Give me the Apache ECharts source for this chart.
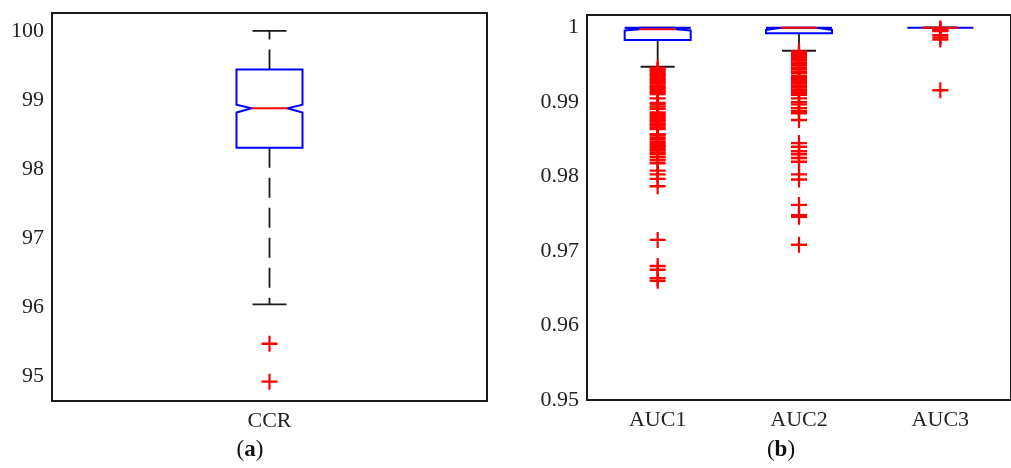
<!DOCTYPE html>
<html>
<head>
<meta charset="utf-8">
<script src="https://cdn.jsdelivr.net/npm/echarts@6/dist/echarts.min.js"></script>
<style>
  html, body { margin: 0; background: #fff; }
  #chart { width: 1011px; height: 468px; }
</style>
</head>
<body>
<div id="chart"></div>
<script>
"use strict";
// ---- data ----
// box rows: [lower whisker, q1, median, q3, upper whisker]
const CATS_A = ["CCR"];
const BOX_A = [[96.04, 98.31, 98.88, 99.44, 100]];
const NOTCH_A = [[98.82, 98.93]];
const OUT_CCR = [95.47, 94.92];
const Y_TICKS_A = [95, 96, 97, 98, 99, 100];

const CATS_B = ["AUC1", "AUC2", "AUC3"];
const BOX_B = [[0.99475, 0.99834, 0.99978, 1.0, 1.0],
               [0.9969, 0.99925, 1.0, 1.0, 1.0],
               [1.0, 1.0, 1.0, 1.0, 1.0]];
const NOTCH_B = [[0.99962, 1.0], [0.9997, 1.0], [1.0, 1.0]];
const OUT_AUC1 = [0.9946, 0.9944, 0.9942, 0.9939, 0.9937, 0.9935, 0.9932, 0.9930, 0.9927,
  0.9925, 0.9922, 0.9920, 0.9918, 0.9915, 0.9913, 0.9911, 0.9905, 0.9899, 0.9897, 0.9894, 0.9891,
  0.9886, 0.9884, 0.9881, 0.9879, 0.9876, 0.9874, 0.9871, 0.9869, 0.9866, 0.9864,
  0.9857, 0.9855, 0.9852, 0.9850, 0.9847, 0.9845, 0.9842, 0.9840, 0.9837, 0.9835, 0.9832, 0.9830,
  0.9826, 0.9822, 0.9818, 0.9808, 0.9803, 0.9797, 0.9787,
  0.9715, 0.9680, 0.9675, 0.96635, 0.9660];
const OUT_AUC2 = [0.9968, 0.9966, 0.9963, 0.9961, 0.9958, 0.9956, 0.9953, 0.9951, 0.9949,
  0.9946, 0.9944, 0.9941, 0.9939, 0.9935, 0.9932, 0.9930, 0.9927, 0.9925, 0.9922, 0.9920,
  0.9917, 0.9915, 0.9912, 0.9910, 0.9905, 0.9900, 0.9897, 0.9892, 0.9888, 0.9885, 0.9876,
  0.9845, 0.9840, 0.9834, 0.9830, 0.9825, 0.9820, 0.9803, 0.9796,
  0.9762, 0.9748, 0.9746, 0.97085];
const OUT_AUC3 = [0.9999, 0.9998, 0.9997, 0.9996, 0.99955, 0.9990, 0.9987, 0.9984, 0.9916];
const Y_TICKS_B = [0.95, 0.96, 0.97, 0.98, 0.99, 1];

// ---- styles ----
const FRAME = "#1a1a1a";
const FONT = "'Liberation Serif', 'Times New Roman', serif";
const BOX_HALF = 33, NOTCH_IN = 15, CAP_HALF = 17;
const PLUS = "path://M0,6.8H16V9.2H0Z M6.9,0H9.1V16H6.9Z";

const boxRows = (box, notch) => box.map((b, i) => [i, ...b, ...notch[i]]);
const outRows = (lists) => lists.flatMap((vals, i) => vals.map((v) => [i, v]));

function renderBox(params, api) {
  const i = api.value(0);
  const [lo, q1, med, q3, hi, nlo, nhi] = [1, 2, 3, 4, 5, 6, 7].map((k) => api.value(k));
  const y = (v) => api.coord([i, v])[1];
  const cx = api.coord([i, med])[0];
  const L = cx - BOX_HALF, R = cx + BOX_HALF;
  const whisker = { stroke: FRAME, lineWidth: 1.8, lineDash: [20, 10] };
  const cap = { stroke: FRAME, lineWidth: 1.8 };
  const kids = [];
  if (hi > q3) kids.push({ type: "line", shape: { x1: cx, y1: y(q3), x2: cx, y2: y(hi) }, style: whisker });
  if (lo < q1) kids.push({ type: "line", shape: { x1: cx, y1: y(q1), x2: cx, y2: y(lo) }, style: whisker });
  kids.push({ type: "line", shape: { x1: cx - CAP_HALF, y1: y(hi), x2: cx + CAP_HALF, y2: y(hi) }, style: cap });
  kids.push({ type: "line", shape: { x1: cx - CAP_HALF, y1: y(lo), x2: cx + CAP_HALF, y2: y(lo) }, style: cap });
  kids.push({ type: "polygon", shape: { points: [
      [L, y(q1)], [L, y(nlo)], [L + NOTCH_IN, y(med)], [L, y(nhi)], [L, y(q3)],
      [R, y(q3)], [R, y(nhi)], [R - NOTCH_IN, y(med)], [R, y(nlo)], [R, y(q1)]] },
    style: { fill: "none", stroke: "#0000ff", lineWidth: 2 } });
  kids.push({ type: "line", shape: { x1: L + NOTCH_IN, y1: y(med), x2: R - NOTCH_IN, y2: y(med) },
    style: { stroke: "#ff0000", lineWidth: 2 } });
  return { type: "group", children: kids };
}

const line = { lineStyle: { color: FRAME, width: 2 } };
const tick = { inside: true, length: 5, lineStyle: { color: FRAME, width: 1.5 } };
const label = { color: "#222", fontFamily: FONT, fontSize: 22 };

function xAxes(grid, cats) {
  return [
    { type: "category", gridIndex: grid, data: cats, position: "bottom", axisLine: line,
      axisTick: { ...tick, alignWithLabel: true }, axisLabel: { ...label, margin: 9 } },
    { type: "category", gridIndex: grid, data: cats, position: "top", axisLine: line,
      axisTick: { ...tick, alignWithLabel: true }, axisLabel: { show: false } }];
}
function yAxes(grid, min, max, ticks) {
  return [
    { type: "value", gridIndex: grid, min, max, position: "left", axisLine: { show: true, ...line },
      axisTick: { ...tick, customValues: ticks }, splitLine: { show: false },
      axisLabel: { ...label, margin: 8, customValues: ticks, formatter: (v) => String(v) } },
    { type: "value", gridIndex: grid, min, max, position: "right", axisLine: { show: true, ...line },
      axisTick: { ...tick, customValues: ticks }, splitLine: { show: false },
      axisLabel: { show: false } }];
}

const caption = (x, letter) => ({
  type: "text", x, y: 450,
  style: { text: `{p|(}{b|${letter}}{p|)}`, align: "center", verticalAlign: "middle",
    rich: { p: { fontFamily: FONT, fontSize: 23, fill: "#111" },
            b: { fontFamily: FONT, fontSize: 23, fontWeight: "bold", fill: "#111" } } } });

const outlierStyle = { color: "#ff0000", opacity: 1 };
const chart = echarts.init(document.getElementById("chart"), null, { renderer: "canvas" });
chart.setOption({
  animation: false,
  backgroundColor: "#fff",
  grid: [{ left: 52, top: 13, width: 435, height: 388 },
         { left: 587, top: 15, width: 435, height: 385 }],
  xAxis: [...xAxes(0, CATS_A), ...xAxes(1, CATS_B)],
  yAxis: [...yAxes(0, 94.64, 100.26, Y_TICKS_A), ...yAxes(1, 0.95, 1.0017, Y_TICKS_B)],
  series: [
    { type: "custom", xAxisIndex: 0, yAxisIndex: 0, renderItem: renderBox,
      data: boxRows(BOX_A, NOTCH_A), encode: { x: 0, y: [1, 2, 3, 4, 5] } },
    { type: "scatter", xAxisIndex: 0, yAxisIndex: 0, symbol: PLUS, symbolSize: 16,
      itemStyle: outlierStyle, data: outRows([OUT_CCR]) },
    { type: "custom", xAxisIndex: 2, yAxisIndex: 2, renderItem: renderBox,
      data: boxRows(BOX_B, NOTCH_B), encode: { x: 0, y: [1, 2, 3, 4, 5] } },
    { type: "scatter", xAxisIndex: 2, yAxisIndex: 2, symbol: PLUS, symbolSize: 16,
      itemStyle: outlierStyle, data: outRows([OUT_AUC1, OUT_AUC2, OUT_AUC3]) }],
  graphic: [caption(250, "a"), caption(781, "b")],
});
</script>
</body>
</html>
